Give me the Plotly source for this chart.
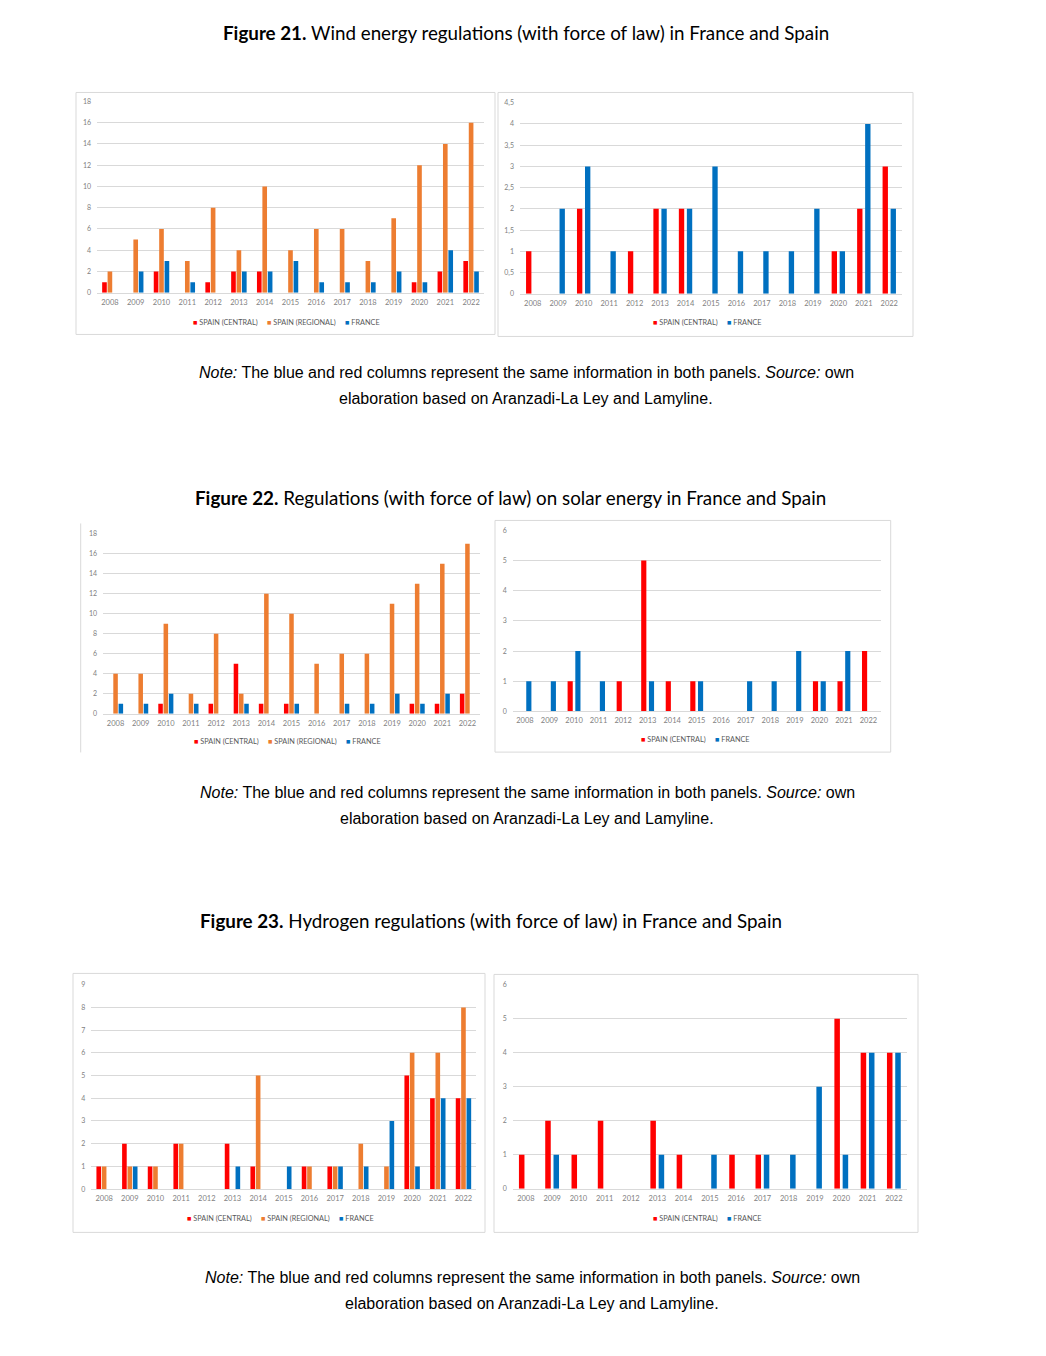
import plotly.graph_objects as go

# ---------------- data ----------------
years = ["2008", "2009", "2010", "2011", "2012", "2013", "2014", "2015",
         "2016", "2017", "2018", "2019", "2020", "2021", "2022"]

wind_central = [1, 0, 2, 0, 1, 2, 2, 0, 0, 0, 0, 0, 1, 2, 3]
wind_regional = [2, 5, 6, 3, 8, 4, 10, 4, 6, 6, 3, 7, 12, 14, 16]
wind_france = [0, 2, 3, 1, 0, 2, 2, 3, 1, 1, 1, 2, 1, 4, 2]

solar_central = [0, 0, 1, 0, 1, 5, 1, 1, 0, 0, 0, 0, 1, 1, 2]
solar_regional = [4, 4, 9, 2, 8, 2, 12, 10, 5, 6, 6, 11, 13, 15, 17]
solar_france = [1, 1, 2, 1, 0, 1, 0, 1, 0, 1, 1, 2, 1, 2, 0]

h2_central = [1, 2, 1, 2, 0, 2, 1, 0, 1, 1, 0, 0, 5, 4, 4]
h2_regional = [1, 1, 1, 2, 0, 0, 5, 0, 1, 1, 2, 1, 6, 6, 8]
h2_france = [0, 1, 0, 0, 0, 1, 0, 1, 0, 1, 1, 3, 1, 4, 4]

series_names = ["SPAIN (CENTRAL)", "SPAIN (REGIONAL)", "FRANCE"]

titles = [
    "<b>Figure 21.</b> Wind energy regulations (with force of law) in France and Spain",
    "<b>Figure 22.</b> Regulations (with force of law) on solar energy in France and Spain",
    "<b>Figure 23.</b> Hydrogen regulations (with force of law) in France and Spain",
]
note_line1 = "<i>Note:</i> The blue and red columns represent the same information in both panels. <i>Source:</i> own"
note_line2 = "elaboration based on Aranzadi-La Ley and Lamyline."

# ---------------- styles ----------------
PAGE_W, PAGE_H = 1046, 1356
OFF = 8  # default page margin around the plot
W, H = PAGE_W - 2 * OFF, PAGE_H - 2 * OFF
VS, VOFF = 0.9941, 4.6  # empirical vertical correction of the photographed page
RED, ORANGE, BLUE = "#ff0000", "#ed7d31", "#0070c0"
COLORS = {"SPAIN (CENTRAL)": RED, "SPAIN (REGIONAL)": ORANGE, "FRANCE": BLUE}
GRID = "#d9d9d9"
TICK = "#7f7f7f"


def fx(px):
    return (px - OFF) / W


def fy(py):
    q = py / VS - VOFF - OFF
    return 1 - q / H


panels = [
    dict(series=[wind_central, wind_regional, wind_france], names=series_names,
         x=(97, 484), y=(101, 292.3), rng=18, dtick=2, width=0.18,
         leg=(286, 322), box=(76, 92, 495, 334)),
    dict(series=[wind_central, wind_france], names=[series_names[0], series_names[2]],
         x=(520, 902), y=(102.3, 293.3), rng=4.5, dtick=0.5, width=0.21,
         leg=(707, 322), box=(498, 92, 913, 336)),
    dict(series=[solar_central, solar_regional, solar_france], names=series_names,
         x=(103, 480), y=(533.3, 713.3), rng=18, dtick=2, width=0.18,
         leg=(287, 741), box=None),
    dict(series=[solar_central, solar_france], names=[series_names[0], series_names[2]],
         x=(512.7, 880.7), y=(530, 711), rng=6, dtick=1, width=0.21,
         leg=(695, 739), box=(495, 520, 890.7, 751.7)),
    dict(series=[h2_central, h2_regional, h2_france], names=series_names,
         x=(91.3, 476.3), y=(984.3, 1188.7), rng=9, dtick=1, width=0.18,
         leg=(280, 1218), box=(73, 973, 485, 1232)),
    dict(series=[h2_central, h2_france], names=[series_names[0], series_names[2]],
         x=(512.7, 907), y=(984.3, 1188.3), rng=6, dtick=1, width=0.21,
         leg=(707, 1218), box=(494, 974, 918, 1232)),
]

fig = go.Figure()
layout = dict(
    width=W, height=H,
    margin=dict(l=0, r=0, t=0, b=0),
    paper_bgcolor="white", plot_bgcolor="white",
    barmode="group", bargap=0.37, bargroupgap=0.0,
    separators=",.",
    showlegend=False,
    font=dict(family="Lato", color=TICK),
)
annotations = []
shapes = []

for i, p in enumerate(panels):
    k = "" if i == 0 else str(i + 1)
    xa, ya = "x" + k, "y" + k
    for vals, name in zip(p["series"], p["names"]):
        fig.add_trace(go.Bar(
            x=years, y=vals, name=name, xaxis=xa, yaxis=ya,
            marker=dict(color=COLORS[name], line=dict(width=0)),
            width=p["width"],
        ))
    layout["xaxis" + k] = dict(
        domain=[fx(p["x"][0]), fx(p["x"][1])], anchor=ya,
        type="category", showgrid=False, showline=True, linecolor=GRID,
        linewidth=1, ticks="", tickfont=dict(size=7.5, color=TICK, family="Lato"),
        ticklabelstandoff=2, fixedrange=True,
    )
    layout["yaxis" + k] = dict(
        domain=[fy(p["y"][1]), fy(p["y"][0])], anchor=xa,
        range=[0, p["rng"]], dtick=p["dtick"], tick0=0,
        showgrid=True, gridcolor=GRID, gridwidth=1, zeroline=False,
        showline=False, ticks="", tickfont=dict(size=7, color=TICK, family="Lato"),
        ticklabelstandoff=5, fixedrange=True,
    )
    # legend (as text)
    parts = []
    for name in p["names"]:
        parts.append('<span style="color:%s">■</span> %s' % (COLORS[name], name))
    annotations.append(dict(
        x=fx(p["leg"][0]), y=fy(p["leg"][1]), xref="paper", yref="paper",
        text="     ".join(parts), showarrow=False, xanchor="center", yanchor="middle",
        font=dict(size=7.3, color="#595959", family="Lato"),
    ))
    if p["box"]:
        x0, y0, x1, y1 = p["box"]
        shapes.append(dict(type="rect", xref="paper", yref="paper",
                           x0=fx(x0), x1=fx(x1), y0=fy(y1), y1=fy(y0),
                           line=dict(color=GRID, width=1), fillcolor="rgba(0,0,0,0)"))

# partial frame of solar left panel
shapes.append(dict(type="line", xref="paper", yref="paper",
                   x0=fx(80.7), x1=fx(80.7), y0=fy(752), y1=fy(523),
                   line=dict(color=GRID, width=1)))

title_pos = [(526, 32), (510, 497), (491, 920)]
note_pos = [(526, 372, 398), (527, 792, 818), (532, 1277, 1303)]
for t, (tx, ty) in zip(titles, title_pos):
    annotations.append(dict(x=fx(tx), y=fy(ty), xref="paper", yref="paper", text=t,
                            showarrow=False, xanchor="center", yanchor="middle",
                            font=dict(size=18.8, color="black", family="Lato")))
for (nx, ny1, ny2) in note_pos:
    annotations.append(dict(x=fx(nx), y=fy(ny1), xref="paper", yref="paper", text=note_line1,
                            showarrow=False, xanchor="center", yanchor="middle",
                            font=dict(size=16, color="black", family="Liberation Sans")))
    annotations.append(dict(x=fx(nx), y=fy(ny2), xref="paper", yref="paper", text=note_line2,
                            showarrow=False, xanchor="center", yanchor="middle",
                            font=dict(size=16, color="black", family="Liberation Sans")))

layout["annotations"] = annotations
layout["shapes"] = shapes
fig.update_layout(**layout)
fig.write_html("out.html")
